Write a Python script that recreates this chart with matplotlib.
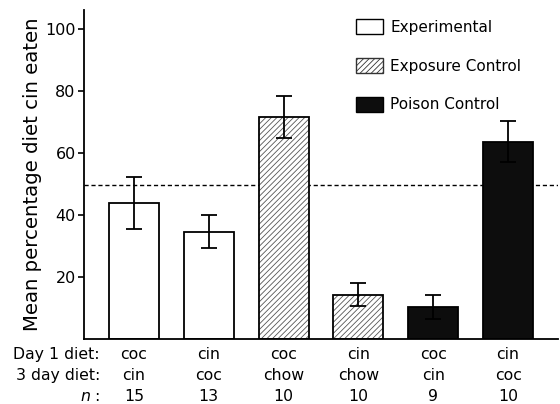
import matplotlib
matplotlib.use("Agg")
import matplotlib.pyplot as plt
from matplotlib.patches import Patch
from matplotlib.transforms import blended_transform_factory

plt.rcParams['font.family'] = ['DejaVu Sans']
plt.rcParams['hatch.linewidth'] = 0.6

day1 = ["coc", "cin", "coc", "cin", "coc", "cin"]
day3 = ["cin", "coc", "chow", "chow", "cin", "coc"]
n_vals = ["15", "13", "10", "10", "9", "10"]
groups = ["Experimental", "Experimental", "Exposure Control", "Exposure Control",
          "Poison Control", "Poison Control"]
means = [43.8, 34.6, 71.6, 14.3, 10.3, 63.6]
errs = [8.5, 5.3, 6.7, 3.6, 3.9, 6.5]
chance = 49.5
yticks = [20, 40, 60, 80, 100]

fig = plt.figure(figsize=(5.6, 4.04), dpi=100)
ax = fig.add_axes([84/560, 1-339/404, 474/560, 329/404])

xs = list(range(len(means)))
w = 0.67
for x, m, g in zip(xs, means, groups):
    if g == "Experimental":
        ax.bar(x, m, w, facecolor="white", edgecolor="black", linewidth=1.3, zorder=2)
    elif g == "Exposure Control":
        ax.bar(x, m, w, facecolor="white", edgecolor="#555555", hatch="//////",
               linewidth=0, zorder=2)
        ax.bar(x, m, w, facecolor="none", edgecolor="black", linewidth=1.3, zorder=3)
    else:
        ax.bar(x, m, w, facecolor="#0d0d0d", edgecolor="black", linewidth=1.3, zorder=2)

ax.errorbar(xs, means, yerr=errs, fmt="none", ecolor="black", elinewidth=1.3,
            capsize=5.5, capthick=1.3, zorder=4)
ax.axhline(chance, color="black", linestyle=(0, (3, 2)), linewidth=1.0, zorder=1)

ax.set_xlim(-0.667, 5.667)
ax.set_ylim(0, 106)
ax.set_yticks(yticks)
ax.set_yticklabels([str(t) for t in yticks], fontsize=11.5)
ax.tick_params(axis="y", direction="out", length=4, width=1.2, pad=2)
ax.set_xticks([])
for s in ["top", "right"]:
    ax.spines[s].set_visible(False)
ax.spines["left"].set_linewidth(1.3)
ax.spines["bottom"].set_linewidth(1.3)
ax.set_ylabel("Mean percentage diet cin eaten", fontsize=14.2, labelpad=2)

tr = blended_transform_factory(ax.transData, ax.transAxes)
rows_y = [-0.0456, -0.112, -0.176]
for x, a, b, c in zip(xs, day1, day3, n_vals):
    for yy, t in zip(rows_y, [a, b, c]):
        ax.text(x, yy, t, transform=tr, ha="center", va="center", fontsize=11.3)
row_names = ["Day 1 diet:", "3 day diet:"]
lx = -0.453
for yy, t in zip(rows_y[:2], row_names):
    ax.text(lx, yy, t, transform=tr, ha="right", va="center", fontsize=11.3)
ax.text(lx, rows_y[2], r"$n$ :", transform=tr, ha="right", va="center", fontsize=11.3)

handles = [
    Patch(facecolor="white", edgecolor="black", linewidth=1.0, label="Experimental"),
    Patch(facecolor="white", edgecolor="#333333", hatch="//////", linewidth=1.0,
          label="Exposure Control"),
    Patch(facecolor="#0d0d0d", edgecolor="black", linewidth=1.0, label="Poison Control"),
]
leg = ax.legend(handles=handles, loc="upper left", bbox_to_anchor=(0.574, 0.972),
                frameon=False, fontsize=11, handlelength=1.75, handleheight=1.15,
                labelspacing=1.5, handletextpad=0.5, borderaxespad=0, borderpad=0)

fig.savefig("out.png", dpi=100)
